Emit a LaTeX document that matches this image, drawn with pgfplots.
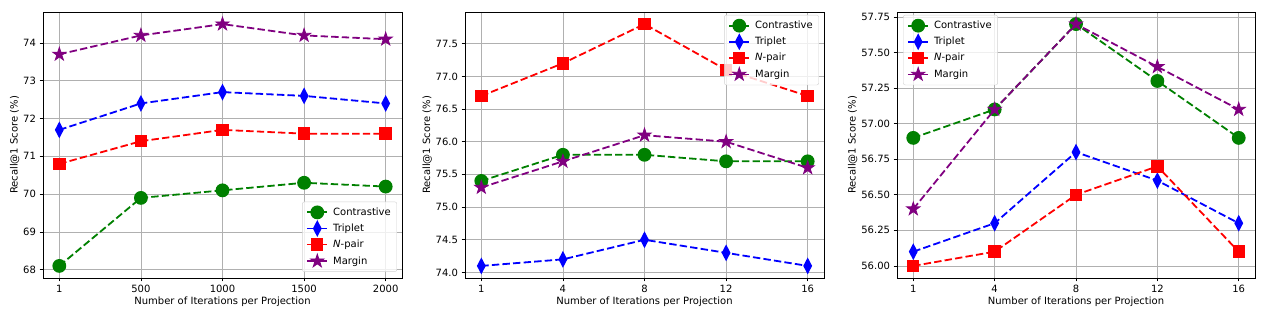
\documentclass[border=0pt]{standalone}
\usepackage{fontspec}
\setmainfont{DejaVu Sans}
\usepackage{pgfplots}
\pgfplotsset{compat=1.18}
\definecolor{mgreen}{RGB}{0,128,0}
\definecolor{mblue}{RGB}{0,0,255}
\definecolor{mred}{RGB}{255,0,0}
\definecolor{mpurple}{RGB}{128,0,128}
\definecolor{gridgray}{RGB}{176,176,176}
\pgfdeclareplotmark{fstar}{%
  \pgfpathmoveto{\pgfpointpolar{90}{\pgfplotmarksize}}%
  \pgfpathlineto{\pgfpointpolar{126}{0.382\pgfplotmarksize}}%
  \pgfpathlineto{\pgfpointpolar{162}{\pgfplotmarksize}}%
  \pgfpathlineto{\pgfpointpolar{198}{0.382\pgfplotmarksize}}%
  \pgfpathlineto{\pgfpointpolar{234}{\pgfplotmarksize}}%
  \pgfpathlineto{\pgfpointpolar{270}{0.382\pgfplotmarksize}}%
  \pgfpathlineto{\pgfpointpolar{306}{\pgfplotmarksize}}%
  \pgfpathlineto{\pgfpointpolar{342}{0.382\pgfplotmarksize}}%
  \pgfpathlineto{\pgfpointpolar{18}{\pgfplotmarksize}}%
  \pgfpathlineto{\pgfpointpolar{54}{0.382\pgfplotmarksize}}%
  \pgfpathclose
  \pgfusepathqfillstroke
}
\pgfplotsset{
  panel/.style={
    scale only axis, width=359pt, height=266pt, anchor=south west,
    xmin=-0.2, xmax=4.2, xtick={0,1,2,3,4},
    font=\fontsize{10}{12}\selectfont,
    /pgf/number format/assume math mode=true,
    tick align=outside, major tick length=3.5pt,
    tick style={black, line width=0.8pt},
    xtick pos=bottom, ytick pos=left,
    grid=major, major grid style={gridgray, line width=0.8pt},
    axis line style={line width=0.8pt},
    xlabel={Number of Iterations per Projection},
    ylabel={Recall@1 Score (\%)},
    xlabel style={yshift=3pt},
    ylabel style={yshift=-3pt},
    clip=false,
    legend cell align=left,
    legend image code/.code={%
      \draw[solid, fill opacity=1, draw opacity=1] (0pt,0pt) -- (20pt,0pt);
      \draw[solid, fill opacity=1, draw opacity=1, mark repeat=1] plot coordinates {(10pt,0pt)};
    },
    legend style={draw=gray!35, rounded corners=2pt, fill=white, fill opacity=0.8, text opacity=1,
      font=\fontsize{10}{12}\selectfont, row sep=3pt, inner sep=4pt,
      /tikz/every odd column/.append style={column sep=3pt}},
  },
  ln/.style={line width=1.8pt, dash pattern=on 7.4pt off 3.2pt},
  pc/.style={ln, mgreen, mark=*, mark size=6pt, mark options={solid, fill=mgreen}},
  pt/.style={ln, mblue, mark=diamond*, mark size=6.5pt, mark options={solid, fill=mblue, xscale=0.7}},
  pn/.style={ln, mred, mark=square*, mark size=5.3pt, mark options={solid, fill=mred}},
  pm/.style={ln, mpurple, mark=fstar, mark size=7pt, mark options={solid, fill=mpurple, line width=0.8pt}},
}
\begin{document}
\begin{tikzpicture}
\path[use as bounding box] (0pt,0pt) rectangle (1266pt,313pt);
% Panel 1
\begin{axis}[panel, at={(43pt,35pt)},
  xticklabels={1,500,1000,1500,2000},
  ymin=67.78, ymax=74.82, ytick={68,69,70,71,72,73,74},
  legend style={at={(rel axis cs:0.986,0.023)}, anchor=south east}]
\addplot[pc] coordinates {(0,68.1) (1,69.9) (2,70.1) (3,70.3) (4,70.2)};
\addplot[pt] coordinates {(0,71.7) (1,72.4) (2,72.7) (3,72.6) (4,72.4)};
\addplot[pn] coordinates {(0,70.8) (1,71.4) (2,71.7) (3,71.6) (4,71.6)};
\addplot[pm] coordinates {(0,73.7) (1,74.2) (2,74.5) (3,74.2) (4,74.1)};
\legend{Contrastive, Triplet, \textit{N}-pair, Margin}
\end{axis}
% Panel 2
\begin{axis}[panel, at={(465pt,35pt)},
  xticklabels={1,4,8,12,16},
  ymin=73.915, ymax=77.985, ytick={74,74.5,75,75.5,76,76.5,77,77.5},
  yticklabel style={/pgf/number format/.cd, fixed, fixed zerofill, precision=1},
  legend style={at={(rel axis cs:0.986,0.989)}, anchor=north east}]
\addplot[pc] coordinates {(0,75.4) (1,75.8) (2,75.8) (3,75.7) (4,75.7)};
\addplot[pt] coordinates {(0,74.1) (1,74.2) (2,74.5) (3,74.3) (4,74.1)};
\addplot[pn] coordinates {(0,76.7) (1,77.2) (2,77.8) (3,77.1) (4,76.7)};
\addplot[pm] coordinates {(0,75.3) (1,75.7) (2,76.1) (3,76.0) (4,75.6)};
\legend{Contrastive, Triplet, \textit{N}-pair, Margin}
\end{axis}
% Panel 3
\begin{axis}[panel, at={(897pt,35pt)}, width=358pt,
  xticklabels={1,4,8,12,16},
  ymin=55.915, ymax=57.785, ytick={56,56.25,56.5,56.75,57,57.25,57.5,57.75},
  yticklabel style={/pgf/number format/.cd, fixed, fixed zerofill, precision=2},
  legend style={at={(rel axis cs:0.017,0.989)}, anchor=north west}]
\addplot[pc] coordinates {(0,56.9) (1,57.1) (2,57.7) (3,57.3) (4,56.9)};
\addplot[pt] coordinates {(0,56.1) (1,56.3) (2,56.8) (3,56.6) (4,56.3)};
\addplot[pn] coordinates {(0,56.0) (1,56.1) (2,56.5) (3,56.7) (4,56.1)};
\addplot[pm] coordinates {(0,56.4) (1,57.1) (2,57.7) (3,57.4) (4,57.1)};
\legend{Contrastive, Triplet, \textit{N}-pair, Margin}
\end{axis}
\end{tikzpicture}
\end{document}
